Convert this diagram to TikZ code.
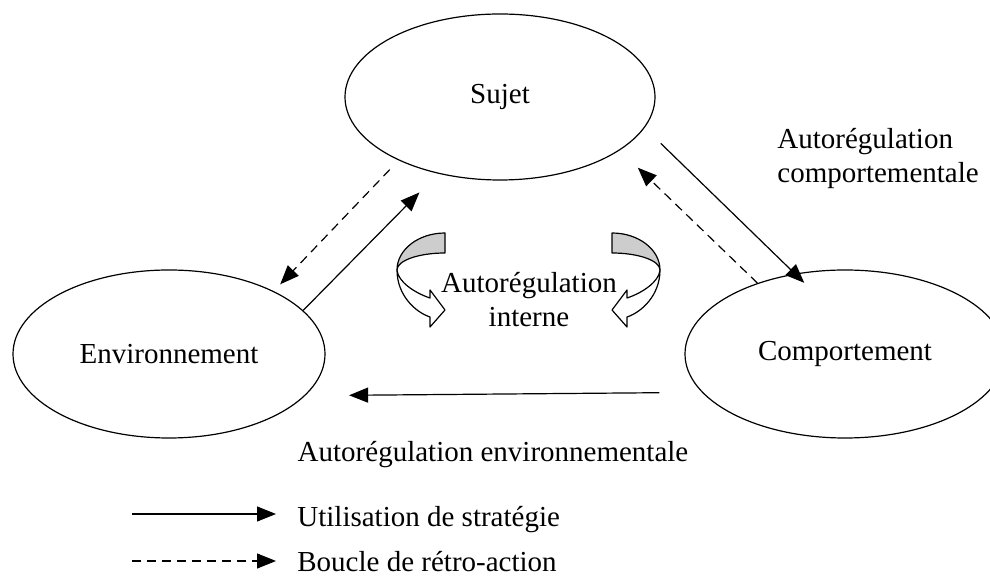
\documentclass[tikz,border=0pt]{standalone}
\usepackage{fontspec}
\setmainfont{Liberation Serif}
\usepackage{tikz}
\usetikzlibrary{arrows.meta,shapes.geometric}
\definecolor{bandgray}{HTML}{CDCDCD}

\tikzset{
	pole/.style={draw, ellipse, line width=.6pt, inner sep=0pt},
	strat/.style={line width=.6pt, -{Triangle[length=9.5pt,width=7.5pt]}},
	feedback/.style={strat, dash pattern=on 4.5pt off 3pt},
	curlarrow/.pic={
		% back of the band
		\filldraw[fill=bandgray, line width=.6pt, line join=round] (0,-37) .. controls (-26.5,-37) and (-48,-20.4) .. (-48,0) .. controls (-48,-9.4) and (-26.5,-17) .. (0,-17) -- cycle;
		% front of the band with its head
		\filldraw[fill=white, line width=.6pt, line join=round] (-48,0) .. controls (-48,25) and (-30,42) .. (-15,47) -- (-15,57) -- (0,40) -- (-15,20) -- (-15,28) .. controls (-30,23) and (-47,12) .. (-48,0) -- cycle;
	}
}

\begin{document}
\begin{tikzpicture}[x=.5pt, y=-.5pt]
	\fontsize{14.5}{17}\selectfont
	\useasboundingbox (0,0) rectangle (990,576);

	\node[pole, minimum width=155pt, minimum height=83pt] (sujet) at (500,97) {Sujet};
	\node[pole, minimum width=156pt, minimum height=84pt] (env) at (169,354) {Environnement};
	\node[pole, minimum width=160pt, minimum height=84pt] (comp) at (845,354) {Comportement};

	% sujet <-> environnement
	\draw[strat, shorten >=13.2pt] (env.18.6) -- (sujet.231.2);
	\draw[feedback, shorten <=6.4pt, shorten >=4.7pt] (sujet.212.9) -- (env.31.8);

	% sujet <-> comportement
	\draw[strat, shorten <=11.2pt, shorten >=-6.6pt] (sujet.348.7) -- (comp.122.9);
	\draw[feedback, shorten >=12.5pt] (comp.141.8) -- (sujet.336.5);
	\node[anchor=west, align=left, inner sep=0pt] (lblcomp) at (777,159) {Autorégulation\\comportementale};

	% comportement -> environnement
	\draw[strat, shorten <=21.2pt, shorten >=21.9pt] (comp.195.9) -- (env.343.7);
	\node[anchor=base, inner sep=0pt] (lblenv) at (493,462) {Autorégulation environnementale};

	% interne
	\pic at (445,270) {curlarrow};
	\pic[xscale=-1] at (612,270) {curlarrow};
	\node[align=center, inner sep=0pt] (lblint) at (529,300) {Autorégulation\\interne};

	% legend
	\coordinate (k1) at (132,514);
	\coordinate (k2) at (132,561);
	\draw[strat] (k1) -- ++(144,0) coordinate (k1e);
	\draw[feedback] (k2) -- ++(144,0) coordinate (k2e);
	\node[anchor=base west, inner sep=0pt] (lbl1) at (297,527) {Utilisation de stratégie};
	\node[anchor=base west, inner sep=0pt] (lbl2) at (297,572) {Boucle de rétro-action};
\end{tikzpicture}
\end{document}
